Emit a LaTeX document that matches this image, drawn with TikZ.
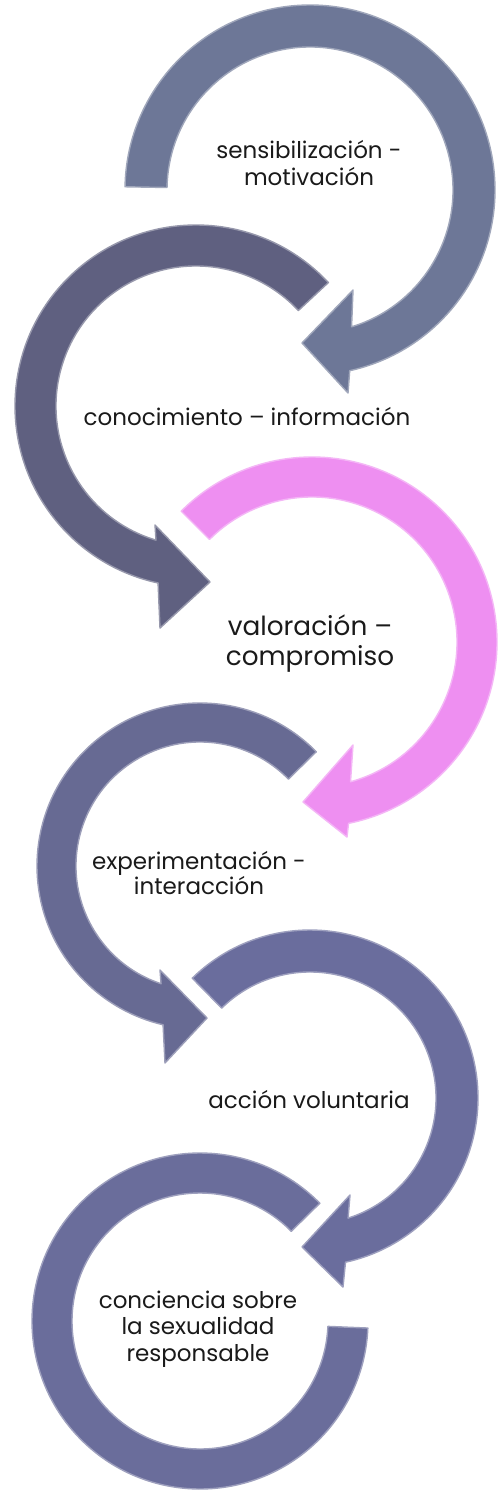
\documentclass[tikz,border=0pt]{standalone}
\usepackage{fontspec}
\setmainfont{Poppins}
\definecolor{ringA}{HTML}{6D7797}
\definecolor{ringB}{HTML}{5F6080}
\definecolor{ringC}{HTML}{EE8FF1}
\definecolor{ringD}{HTML}{676A93}
\definecolor{ringE}{HTML}{6A6D9D}
\definecolor{ringF}{HTML}{6A6D9B}
\definecolor{txt}{HTML}{1A1A1A}
\begin{document}
\begin{tikzpicture}[x=1pt,y=-1pt,
  arrowring/.style={fill=#1, draw=#1!65!white, line width=1.4pt, line join=round},
  lbl/.style={align=center, text=txt, inner sep=0pt, font=\fontsize{23}{27}\selectfont},
  biglbl/.style={align=center, text=txt, inner sep=0pt, font=\fontsize{26.3}{30}\selectfont}]
\useasboundingbox (0,0) rectangle (502,1491);
\fill[white] (0,0) rectangle (502,1491);

% ring 1 (clockwise)
\begin{scope}[shift={(310,190)}]
\path[arrowring=ringA] (181:185) arc[start angle=181, end angle=437.6, radius=185]
  -- (38,203) -- (-8,153) -- (43,100) -- (433.1:143)
  arc[start angle=433.1, end angle=181, radius=143] -- cycle;
\end{scope}

% ring 2 (counter-clockwise)
\begin{scope}[shift={(196,406)}]
\path[arrowring=ringB] (317:181) arc[start angle=317, end angle=102.1, radius=181]
  -- (-36,222) -- (14,176) -- (-41,119) -- (106.6:140)
  arc[start angle=106.6, end angle=317, radius=140] -- cycle;
\end{scope}

% ring 3 (clockwise, pink)
\begin{scope}[shift={(312,642)}]
\path[arrowring=ringC] (225:185) arc[start angle=225, end angle=438.6, radius=185]
  -- (35,195) -- (-9,160) -- (41,103) -- (434.6:145)
  arc[start angle=434.6, end angle=225, radius=145] -- cycle;
\end{scope}

% ring 4 (counter-clockwise)
\begin{scope}[shift={(200,866)}]
\path[arrowring=ringD] (315.5:163) arc[start angle=315.5, end angle=103.1, radius=163]
  -- (-35,197) -- (7,152) -- (-40,104) -- (108.3:124)
  arc[start angle=108.3, end angle=315.5, radius=124] -- cycle;
\end{scope}

% ring 5 (clockwise)
\begin{scope}[shift={(310,1098)}]
\path[arrowring=ringE] (225.5:168) arc[start angle=225.5, end angle=437.8, radius=168]
  -- (33,189) -- (-8,149) -- (40,97) -- (432.4:126)
  arc[start angle=432.4, end angle=225.5, radius=126] -- cycle;
\end{scope}

% ring 6 (counter-clockwise, no head)
\begin{scope}[shift={(200,1321)}]
\path[arrowring=ringF] (315.5:168) arc[start angle=315.5, end angle=2.4, radius=168]
  -- (2.4:128) arc[start angle=2.4, end angle=315.5, radius=128] -- cycle;
\end{scope}

\node[lbl] (t1) at (309,163) {sensibilización -\\motivación};
\node[lbl] (t2) at (247,417) {conocimiento – información};
\node[biglbl] (t3) at (310,644) {valoración –\\compromiso};
\node[lbl, font=\fontsize{23}{25.5}\selectfont] (t4) at (199,873) {experimentación -\\interacción};
\node[lbl] (t5) at (309,1100) {acción voluntaria};
\node[lbl, font=\fontsize{23}{26.5}\selectfont] (t6) at (198,1329) {conciencia sobre\\la sexualidad\\responsable};
\end{tikzpicture}
\end{document}
